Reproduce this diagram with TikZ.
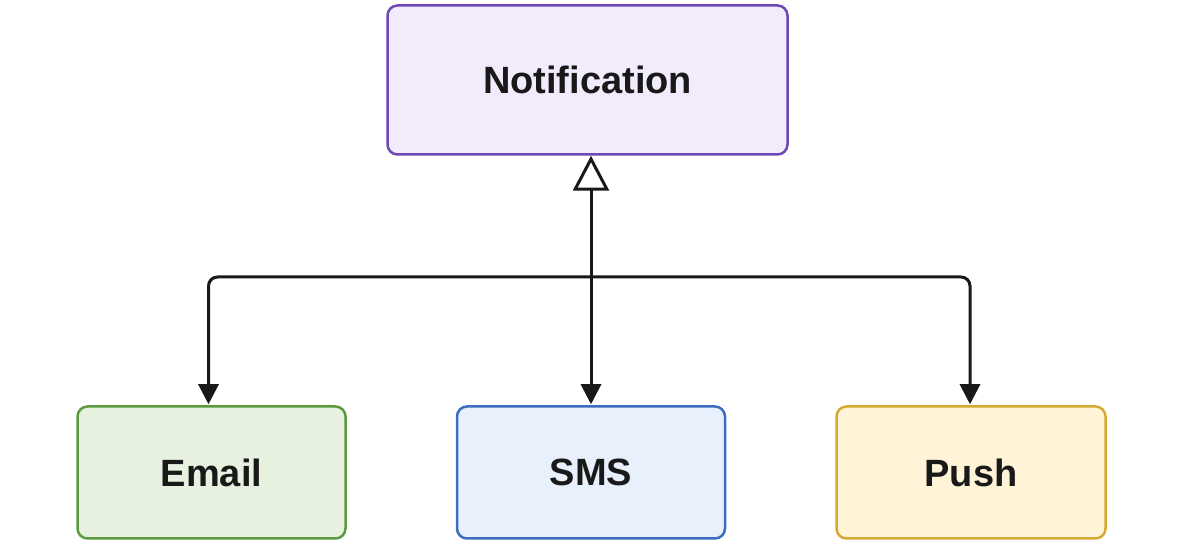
\documentclass[tikz,border=0pt]{standalone}
\usepackage{fontspec}
\setmainfont{Liberation Sans}
\usetikzlibrary{arrows.meta}
\definecolor{npurpleF}{HTML}{F1EBFB}
\definecolor{npurpleD}{HTML}{6E48B4}
\definecolor{ngreenF}{HTML}{E6F2DF}
\definecolor{ngreenD}{HTML}{5B9A3E}
\definecolor{nblueF}{HTML}{E8F0FC}
\definecolor{nblueD}{HTML}{3C6DBF}
\definecolor{nyellowF}{HTML}{FFF4D8}
\definecolor{nyellowD}{HTML}{D6A935}
\tikzset{
  box/.style={draw, line width=2.5pt, rounded corners=10pt, inner sep=0pt,
    font=\fontsize{38}{42}\selectfont\bfseries, text=black!90},
  conn/.style={line width=3pt, black!90}
}
\begin{document}
\begin{tikzpicture}[x=1pt,y=1pt]
\useasboundingbox (0,0) rectangle (1183,545);
\node[box, fill=npurpleF, draw=npurpleD, minimum width=400pt, minimum height=149pt] (notif) at (587.5,465) {Notification};
\node[box, fill=ngreenF, draw=ngreenD, minimum width=268pt, minimum height=132pt] (email) at (211.5,72.5) {Email};
\node[box, fill=nblueF, draw=nblueD, minimum width=268pt, minimum height=132pt] (sms) at (591,72.5) {SMS};
\node[box, fill=nyellowF, draw=nyellowD, minimum width=269pt, minimum height=132pt] (push) at (971,72.5) {Push};
\coordinate (bus) at (0,268);
\draw[conn, {Triangle[width=20pt,length=20pt]}-{Triangle[open,width=36pt,length=35pt,fill=white]}]
  ([yshift=1pt]sms.north) -- (sms.north |- notif.south);
\draw[conn, rounded corners=9pt, {Triangle[width=20pt,length=20pt]}-{Triangle[width=20pt,length=20pt]}]
  ([xshift=-3pt,yshift=1pt]email.north) -- ([xshift=-3pt]email.north |- bus) -| ([xshift=-1pt,yshift=1pt]push.north);
\end{tikzpicture}
\end{document}
